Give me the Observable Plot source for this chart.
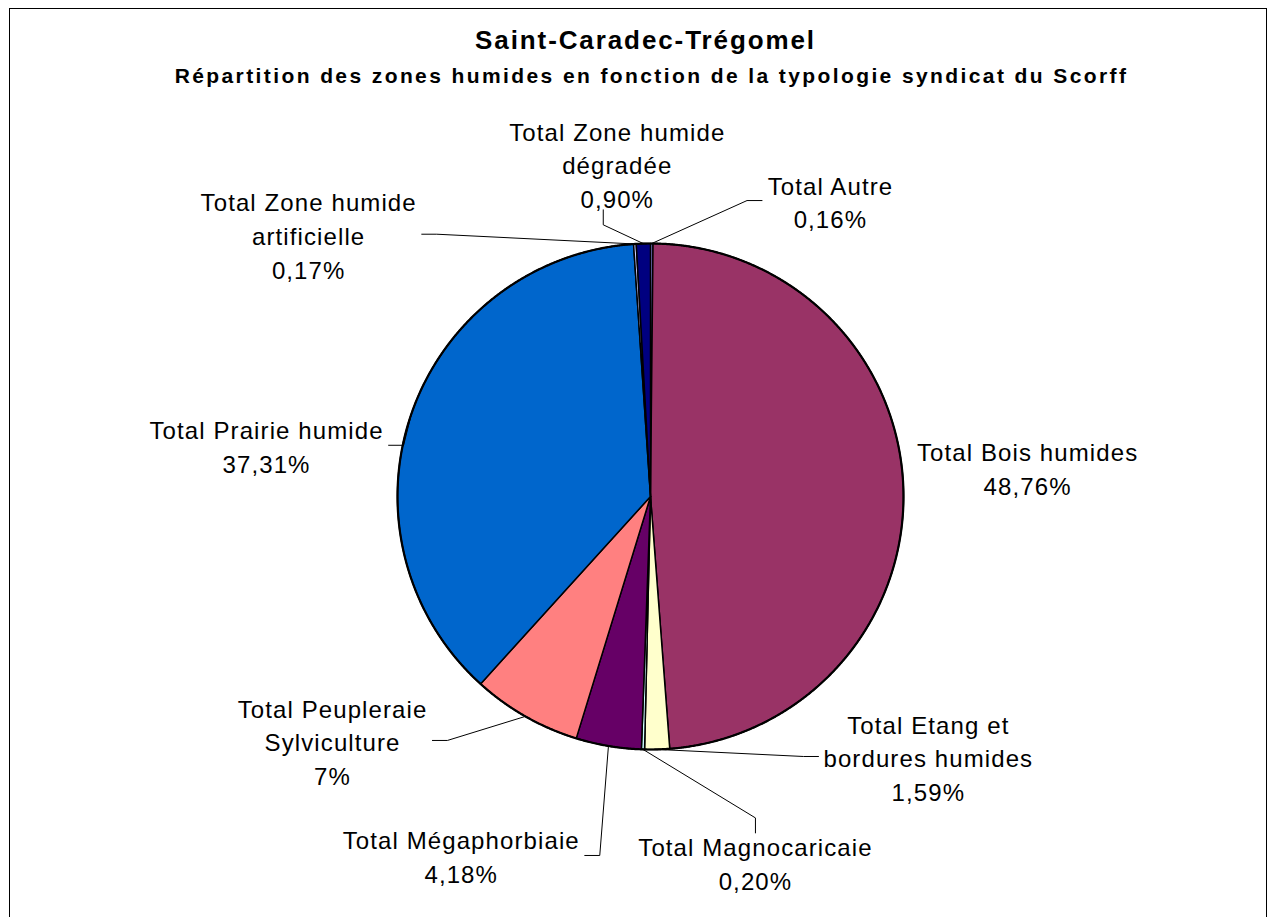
<!DOCTYPE html>
<html><head><meta charset="utf-8">
<script src="https://cdn.jsdelivr.net/npm/d3@7"></script>
<script src="https://cdn.jsdelivr.net/npm/@observablehq/plot@0.6"></script>
<style>
body{margin:0;background:#fff;}
#wrap{position:relative;width:1274px;height:917px;overflow:hidden;}
#border{position:absolute;left:9px;top:8px;width:1258px;height:940px;border:1px solid #000;box-sizing:border-box;pointer-events:none}
</style></head><body><div id="wrap"><div id="chart"></div><div id="border"></div></div>
<script>
// ---- data ----
const title = "Saint-Caradec-Trégomel";
const subtitle = "Répartition des zones humides en fonction de la typologie syndicat du Scorff";
const categories = ["Total Autre", "Total Bois humides", "Total Etang et bordures humides", "Total Magnocaricaie", "Total Mégaphorbiaie", "Total Peupleraie Sylviculture", "Total Prairie humide", "Total Zone humide artificielle", "Total Zone humide dégradée"];
const labelNames = ["Total Autre", "Total Bois humides", "Total Etang et\nbordures humides", "Total Magnocaricaie", "Total Mégaphorbiaie", "Total Peupleraie\nSylviculture", "Total Prairie humide", "Total Zone humide\nartificielle", "Total Zone humide\ndégradée"];
const values = [0.16, 48.76, 1.59, 0.20, 4.18, 7, 37.31, 0.17, 0.90];
const percentLabels = ["0,16%", "48,76%", "1,59%", "0,20%", "4,18%", "7%", "37,31%", "0,17%", "0,90%"];
const colors = ["#9999FF", "#993366", "#FFFFCC", "#CCFFFF", "#660066", "#FF8080", "#0066CC", "#CCCCFF", "#000080"];

// ---- layout ----
const W = 1274, H = 917, CX = 650, CY = 496, R = 253;
const labelAngle = [31.3, 85.6, 133.1, 164.0, 207.8, 232.5, 277.6, 307.5, 354.3];
const labelRadius = [1.369, 1.495, 1.504, 1.505, 1.604, 1.584, 1.531, 1.703, 1.323];
const leaderSide = ["left", "none", "left", "top", "right", "right", "right", "right", "bottom"];
const leaderShift = [0, 0, 0, 0, 0, 0, 0, 0, -14];
const FS = 24, LS = 1.1, LH = 1.4;

const rows = categories.map((c, i) => ({name: c, value: values[i], label: labelNames[i] + "\n" + percentLabels[i]}));
const arcs = d3.pie().sort(null).value(d => d.value).startAngle(0).endAngle(2 * Math.PI)(rows);

// slice polygons (unit radius)
const slicePts = [];
for (const a of arcs) {
  const n = Math.max(2, Math.ceil((a.endAngle - a.startAngle) / (Math.PI / 720)));
  slicePts.push({name: a.data.name, x: 0, y: 0});
  for (let k = 0; k <= n; k++) {
    const t = a.startAngle + (a.endAngle - a.startAngle) * k / n;
    slicePts.push({name: a.data.name, x: Math.sin(t), y: -Math.cos(t)});
  }
  slicePts.push({name: a.data.name, x: 0, y: 0});
}
// outer rim
const rim = d3.range(0, 1441).map(k => ({x: Math.sin(k * Math.PI / 720), y: -Math.cos(k * Math.PI / 720)}));

// label positions + leader lines
const ctx = document.createElement("canvas").getContext("2d");
ctx.font = `${FS}px "Liberation Sans", Arial, sans-serif`;
const textW = s => Math.max(...s.split("\n").map(l => ctx.measureText(l).width + LS * l.length));
const labels = [], leaders = [];
arcs.forEach((a, i) => {
  const ang = labelAngle[i] * Math.PI / 180;
  const lx = Math.sin(ang) * labelRadius[i], ly = -Math.cos(ang) * labelRadius[i];
  labels.push({x: lx, y: ly, text: a.data.label});
  const side = leaderSide[i];
  if (side === "none") return;
  const nLines = a.data.label.split("\n").length;
  const w = textW(a.data.label) / R, h = nLines * FS * LH / R;
  const gap = 5 / R, elb = 15 / R, sx = lx + leaderShift[i] / R;
  let end, elbow;
  if (side === "left") { end = [lx - w / 2 - gap, ly]; elbow = [end[0] - elb, ly]; }
  if (side === "right") { end = [lx + w / 2 + gap, ly]; elbow = [end[0] + elb, ly]; }
  if (side === "top") { end = [sx, ly - h / 2 + 4 / R]; elbow = [sx, end[1] - elb]; }
  if (side === "bottom") { end = [sx, ly + h / 2 - 4 / R]; elbow = [sx, end[1] + elb]; }
  const mid = (a.startAngle + a.endAngle) / 2;
  const p = [Math.sin(mid), -Math.cos(mid)];
  [p, elbow, end].forEach(q => leaders.push({name: a.data.name, x: q[0], y: q[1]}));
});

const chart = Plot.plot({
  width: W, height: H,
  margin: 0,
  x: {domain: [-CX / R, (W - CX) / R], range: [0, W], axis: null},
  y: {domain: [-CY / R, (H - CY) / R], range: [0, H], axis: null},
  color: {domain: categories, range: colors},
  style: {fontFamily: '"Liberation Sans", Arial, sans-serif', background: "#fff"},
  marks: [
    Plot.line(slicePts, {x: "x", y: "y", z: "name", fill: "name", stroke: "#000", strokeWidth: 1.5, strokeLinejoin: "round", curve: "linear"}),
    Plot.line(rim, {x: "x", y: "y", stroke: "#000", strokeWidth: 2.2, curve: "linear"}),
    Plot.line(leaders, {x: "x", y: "y", z: "name", stroke: "#000", strokeWidth: 1, curve: "linear"}),
    Plot.text(labels, {x: "x", y: "y", text: "text", fontSize: FS, lineHeight: LH, fill: "#000"}),
    Plot.text([title], {frameAnchor: "top", lineAnchor: "middle", dy: 40, dx: 8, fontSize: 26, fontWeight: "bold", fill: "#000"}),
    Plot.text([subtitle], {frameAnchor: "top", lineAnchor: "middle", dy: 76, dx: 14, fontSize: 21, fontWeight: "bold", fill: "#000"})
  ]
});
document.getElementById("chart").appendChild(chart);
const tg = chart.querySelectorAll("g[aria-label='text']");
tg[0].setAttribute("letter-spacing", LS);
tg[1].setAttribute("letter-spacing", 1.9);
tg[2].setAttribute("letter-spacing", 2.4);
</script></body></html>
